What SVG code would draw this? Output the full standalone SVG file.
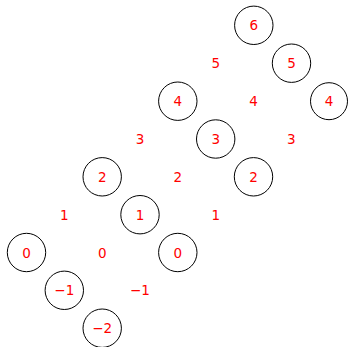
<svg xmlns="http://www.w3.org/2000/svg" width="348" height="347" viewBox="0 0 348 347">
<style>
circle{fill:none;stroke:#000;stroke-width:1}
text{font-family:"DejaVu Sans",sans-serif;font-size:13.5px;fill:#ff0000;text-anchor:middle}
</style>
<rect width="348" height="347" fill="#fff"/>
<g id="connectors"></g>
<g id="n6a"><circle cx="253.8" cy="25.3" r="19.2"/><text x="253.8" y="30.3">6</text></g>
<g id="n5a"><circle cx="291.5" cy="63.2" r="19.2"/><text x="291.5" y="68.2">5</text></g>
<g id="n4a"><circle cx="329" cy="101.2" r="18.5"/><text x="329" y="106.2">4</text></g>
<g id="n4b"><circle cx="177.8" cy="101.2" r="19.2"/><text x="177.8" y="106.2">4</text></g>
<g id="n3a"><circle cx="215.7" cy="139" r="19.2"/><text x="215.7" y="144">3</text></g>
<g id="n2a"><circle cx="253.5" cy="176.8" r="19.2"/><text x="253.5" y="181.8">2</text></g>
<g id="n2b"><circle cx="102.2" cy="176.8" r="19.2"/><text x="102.2" y="181.8">2</text></g>
<g id="n1a"><circle cx="140" cy="214.7" r="19.2"/><text x="140" y="219.7">1</text></g>
<g id="n0a"><circle cx="177.8" cy="252.5" r="19.2"/><text x="177.8" y="257.5">0</text></g>
<g id="n0b"><circle cx="26.5" cy="252.5" r="19.2"/><text x="26.5" y="257.5">0</text></g>
<g id="nm1"><circle cx="64.3" cy="290.3" r="19.2"/><text x="64.3" y="295.3">−1</text></g>
<g id="nm2"><circle cx="102.2" cy="328.2" r="19.2"/><text x="102.2" y="333.2">−2</text></g>
<g id="labels">
<text x="215.7" y="68.2">5</text>
<text x="253.5" y="106.2">4</text>
<text x="291.3" y="144">3</text>
<text x="140" y="144">3</text>
<text x="177.8" y="181.8">2</text>
<text x="215.7" y="219.7">1</text>
<text x="64.3" y="219.7">1</text>
<text x="102.2" y="257.5">0</text>
<text x="140" y="295.3">−1</text>
</g>
</svg>
